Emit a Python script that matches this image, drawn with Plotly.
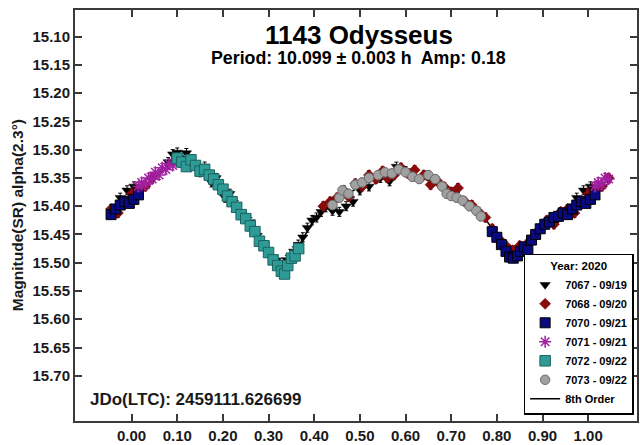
import plotly.graph_objects as go

# ---------------- data (phase, magnitude) ----------------
s7067_phase = [0.975, 0.990, 1.005, 0.080, 0.090, 0.100, 0.110, 0.120, 0.135, 0.150, 0.160, 0.175,
               0.185, 0.195, 0.205, 0.215, 0.230, 0.245, 0.260, 0.275, 0.290, 0.305, 0.315, 0.325,
               0.340, 0.355, 0.365, 0.375, 0.385, 0.395, 0.405, 0.415, 0.425, 0.440, 0.455, 0.470,
               0.485, 0.500, 0.520, 0.545, 0.565, 0.580, 0.600]
s7067_mag = [15.385, 15.372, 15.365, 15.322, 15.308, 15.305, 15.318, 15.306, 15.326, 15.340, 15.330, 15.358,
             15.350, 15.372, 15.385, 15.378, 15.398, 15.420, 15.428, 15.452, 15.470, 15.490, 15.497, 15.500,
             15.495, 15.480, 15.468, 15.455, 15.438, 15.425, 15.420, 15.410, 15.402, 15.408, 15.410, 15.400,
             15.392, 15.372, 15.365, 15.350, 15.356, 15.330, 15.338]

s7068_phase = [0.420, 0.435, 0.450, 0.465, 0.475, 0.490, 0.505, 0.520, 0.535, 0.550, 0.560, 0.575,
               0.590, 0.605, 0.620, 0.640, 0.655, 0.670, 0.685, 0.700, 0.715, 0.730, 0.745, 0.760,
               0.775, 0.790, 0.805, 0.820, 0.835, 0.850, 0.865, 0.880, 0.895, 0.910, 0.925, 0.940,
               0.955, 0.970, 0.985, 1.000, 1.015, 1.030, 1.045]
s7068_mag = [15.400, 15.392, 15.385, 15.372, 15.383, 15.360, 15.365, 15.345, 15.352, 15.338, 15.350, 15.345,
             15.332, 15.342, 15.336, 15.345, 15.362, 15.356, 15.366, 15.375, 15.368, 15.392, 15.398, 15.410,
             15.420, 15.440, 15.458, 15.470, 15.478, 15.470, 15.468, 15.455, 15.440, 15.425, 15.432, 15.410,
             15.405, 15.412, 15.395, 15.378, 15.372, 15.365, 15.350]

s7070_phase = [0.790, 0.800, 0.810, 0.820, 0.828, 0.836, 0.845, 0.852, 0.860, 0.868, 0.876, 0.885,
               0.895, 0.905, 0.915, 0.925, 0.935, 0.945, 0.955, 0.965, 0.975, 0.985, 0.995, 1.005, 1.015]
s7070_mag = [15.445, 15.455, 15.468, 15.480, 15.490, 15.492, 15.488, 15.480, 15.472, 15.478, 15.460, 15.450,
             15.440, 15.432, 15.428, 15.420, 15.418, 15.412, 15.415, 15.405, 15.398, 15.392, 15.395, 15.388, 15.380]

s7071_phase = [0.015, 0.022, 0.030, 0.037, 0.045, 0.052, 0.060, 0.067, 0.075, 0.082, 0.090, 0.098, 0.105]
s7071_mag = [15.365, 15.358, 15.362, 15.350, 15.352, 15.340, 15.345, 15.332, 15.335, 15.325, 15.328, 15.318, 15.322]

s7072_phase = [0.100, 0.110, 0.120, 0.130, 0.140, 0.150, 0.160, 0.170, 0.180, 0.190, 0.200, 0.210,
               0.220, 0.230, 0.240, 0.250, 0.260, 0.270, 0.280, 0.290, 0.300, 0.310, 0.320, 0.328,
               0.335, 0.342, 0.350, 0.358, 0.366]
s7072_mag = [15.315, 15.322, 15.330, 15.318, 15.328, 15.338, 15.335, 15.345, 15.352, 15.362, 15.370, 15.382,
             15.392, 15.402, 15.415, 15.422, 15.435, 15.445, 15.462, 15.470, 15.482, 15.495, 15.505, 15.515,
             15.520, 15.505, 15.492, 15.488, 15.475]

s7073_phase = [0.440, 0.455, 0.462, 0.475, 0.490, 0.505, 0.520, 0.540, 0.555, 0.570, 0.585, 0.600,
               0.615, 0.630, 0.650, 0.665, 0.680, 0.690, 0.700, 0.712, 0.725, 0.740, 0.755, 0.765]
s7073_mag = [15.398, 15.385, 15.372, 15.378, 15.362, 15.358, 15.350, 15.345, 15.340, 15.342, 15.335, 15.340,
             15.348, 15.352, 15.345, 15.352, 15.365, 15.378, 15.382, 15.385, 15.390, 15.400, 15.408, 15.418]

fit_phase = [-0.05, -0.03, -0.01, 0.01, 0.03, 0.05, 0.07, 0.09, 0.11, 0.13, 0.15, 0.17, 0.19, 0.21, 0.23,
             0.25, 0.27, 0.29, 0.31, 0.33, 0.35, 0.37, 0.39, 0.41, 0.43, 0.45, 0.47, 0.49, 0.51, 0.53,
             0.55, 0.57, 0.59, 0.61, 0.63, 0.65, 0.67, 0.69, 0.71, 0.73, 0.75, 0.77, 0.79, 0.81, 0.83,
             0.85, 0.87, 0.89, 0.91, 0.93, 0.95, 0.97, 0.99, 1.01, 1.03, 1.05]
fit_mag = [15.420, 15.405, 15.392, 15.378, 15.365, 15.350, 15.335, 15.320, 15.312, 15.318, 15.332, 15.348,
           15.365, 15.383, 15.402, 15.422, 15.445, 15.468, 15.488, 15.500, 15.490, 15.465, 15.438, 15.415,
           15.400, 15.390, 15.380, 15.370, 15.360, 15.350, 15.342, 15.337, 15.336, 15.340, 15.347, 15.355,
           15.363, 15.372, 15.380, 15.390, 15.402, 15.418, 15.440, 15.462, 15.482, 15.488, 15.475, 15.452,
           15.435, 15.422, 15.412, 15.403, 15.393, 15.382, 15.370, 15.355]

series_names = ["7067 - 09/19", "7068 - 09/20", "7070 - 09/21", "7071 - 09/21", "7072 - 09/22", "7073 - 09/22"]
x_ticks = [0.00, 0.10, 0.20, 0.30, 0.40, 0.50, 0.60, 0.70, 0.80, 0.90, 1.00]
y_ticks = [15.10, 15.15, 15.20, 15.25, 15.30, 15.35, 15.40, 15.45, 15.50, 15.55, 15.60, 15.65, 15.70]
mag_err = 0.008


def wrap(ph, mg):
    """Phase-fold duplicates so the plotted range -0.05..1.05 is covered."""
    xs, ys = [], []
    for p, m in zip(ph, mg):
        xs.append(p); ys.append(m)
        if p > 0.95:
            xs.append(p - 1.0); ys.append(m)
        elif p < 0.05:
            xs.append(p + 1.0); ys.append(m)
    return xs, ys


FONT = "Liberation Sans, Arial, sans-serif"
styles = [
    dict(symbol="triangle-down", size=9, color="#000000", line=dict(color="#000000", width=0.5)),
    dict(symbol="diamond", size=8.5, color="#8B0A0A", line=dict(color="#5A0000", width=0.5)),
    dict(symbol="square", size=10, color="#0A0A80", line=dict(color="#000000", width=1)),
    dict(symbol="asterisk-open", size=10, color="#A020A0", line=dict(color="#A020A0", width=1.5)),
    dict(symbol="square", size=10.5, color="#2E9B96", line=dict(color="#1C625F", width=1)),
    dict(symbol="circle", size=9.5, color="#A0A0A0", line=dict(color="#6E6E6E", width=1)),
]
err_colors = ["#000000", "#B02020", "#000060", "#A020A0", "#1C625F", "#707070"]
datasets = [(s7067_phase, s7067_mag), (s7068_phase, s7068_mag), (s7070_phase, s7070_mag),
            (s7071_phase, s7071_mag), (s7072_phase, s7072_mag), (s7073_phase, s7073_mag)]

fig = go.Figure()

fig.add_trace(go.Scatter(x=fit_phase, y=fit_mag, mode="lines", name="8th Order",
                         line=dict(color="#000000", width=1.6, shape="spline"),
                         legendrank=1007))

for i, ((ph, mg), nm, st, ec) in enumerate(zip(datasets, series_names, styles, err_colors)):
    xs, ys = wrap(ph, mg)
    fig.add_trace(go.Scatter(x=xs, y=ys, mode="markers", name=nm, marker=st,
                             error_y=dict(type="constant", value=mag_err, color=ec,
                                          thickness=1, width=2),
                             legendrank=1000 + i))

axis_common = dict(showline=True, linecolor="#3A3A3A", linewidth=2, mirror="ticks",
                   ticks="inside", ticklen=7, tickwidth=1.5, tickcolor="#3A3A3A",
                   showgrid=False, zeroline=False,
                   tickfont=dict(family=FONT, size=15, color="#1A1A1A", weight="bold"))

fig.update_xaxes(range=[-0.124, 1.107], tickmode="array", tickvals=x_ticks,
                 ticktext=[f"{v:.2f}" for v in x_ticks], **axis_common)
fig.update_yaxes(range=[15.780, 15.053], tickmode="array", tickvals=y_ticks,
                 ticktext=[f"{v:.2f}" for v in y_ticks], **axis_common)

fig.update_layout(
    width=640, height=445,
    margin=dict(l=75, r=1, t=10, b=22),
    paper_bgcolor="white", plot_bgcolor="white",
    font=dict(family=FONT, color="#000000"),
    legend=dict(x=0.994, y=0.015, xanchor="right", yanchor="bottom",
                bgcolor="white", bordercolor="#000000", borderwidth=1.5,
                font=dict(family=FONT, size=11, color="#000000", weight="bold"),
                title=dict(text="Year: 2020", side="top center",
                           font=dict(family=FONT, size=11.5, weight="bold")),
                tracegroupgap=0, itemwidth=30),
    annotations=[
        dict(text="<b>1143 Odysseus</b>", xref="paper", yref="paper", x=0.505, y=0.939,
             showarrow=False, font=dict(family=FONT, size=26, color="#000000"),
             xanchor="center", yanchor="middle"),
        dict(text="<b>Period: 10.099 ± 0.003 h  Amp: 0.18</b>", xref="paper", yref="paper",
             x=0.505, y=0.884, showarrow=False, font=dict(family=FONT, size=17.8, color="#000000"),
             xanchor="center", yanchor="middle"),
        dict(text="<b>JDo(LTC): 2459111.626699</b>", xref="paper", yref="paper",
             x=0.023, y=0.053, showarrow=False, font=dict(family=FONT, size=17, color="#1A1A1A"),
             xanchor="left", yanchor="middle"),
        dict(text="<b>Magnitude(SR) alpha(2.3°)</b>", xref="paper", yref="paper",
             x=-0.103, y=0.501, showarrow=False, textangle=-90,
             font=dict(family=FONT, size=15.5, color="#1A1A1A"),
             xanchor="center", yanchor="middle"),
    ],
)

fig.write_html("out.html")
